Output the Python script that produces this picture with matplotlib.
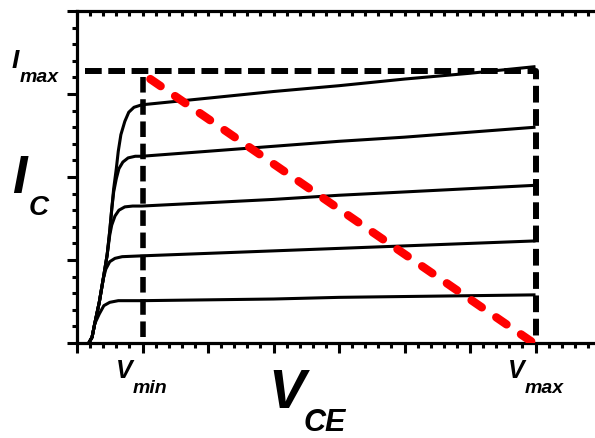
import matplotlib.pyplot as plt
from matplotlib.ticker import MultipleLocator

# Output characteristic curves (V_CE, I_C)
vce_1 = [0.18, 0.23, 0.27, 0.34, 0.40, 0.46, 0.50, 0.53, 0.56, 0.60, 0.63, 0.67, 0.73, 0.79, 0.87, 0.99,
         2.0, 3.0, 4.0, 5.0, 6.0, 7.0]
ic_1 = [0.0, 0.07, 0.23, 0.49, 0.77, 1.06, 1.35, 1.61, 1.86, 2.10, 2.31, 2.51, 2.67, 2.78, 2.84, 2.87,
        2.95, 3.03, 3.10, 3.18, 3.25, 3.33]

vce_2 = [0.18, 0.23, 0.27, 0.34, 0.40, 0.46, 0.50, 0.53, 0.56, 0.60, 0.64, 0.70, 0.78, 0.89, 0.99,
         2.0, 3.0, 4.0, 5.0, 6.0, 7.0]
ic_2 = [0.0, 0.07, 0.23, 0.49, 0.77, 1.06, 1.35, 1.61, 1.82, 1.98, 2.10, 2.18, 2.23, 2.25, 2.25,
        2.31, 2.37, 2.43, 2.48, 2.54, 2.60]

vce_3 = [0.18, 0.23, 0.27, 0.34, 0.40, 0.46, 0.50, 0.53, 0.58, 0.64, 0.73, 0.85, 0.99,
         2.0, 3.0, 4.0, 5.0, 6.0, 7.0]
ic_3 = [0.0, 0.07, 0.23, 0.49, 0.77, 1.06, 1.30, 1.42, 1.53, 1.60, 1.64, 1.65, 1.65,
        1.69, 1.73, 1.78, 1.82, 1.86, 1.90]

vce_4 = [0.18, 0.23, 0.27, 0.34, 0.40, 0.44, 0.50, 0.58, 0.69, 0.99,
         2.0, 3.0, 4.0, 5.0, 6.0, 7.0]
ic_4 = [0.0, 0.07, 0.23, 0.49, 0.77, 0.89, 0.98, 1.02, 1.04, 1.05,
        1.08, 1.11, 1.14, 1.17, 1.20, 1.23]

vce_5 = [0.18, 0.23, 0.27, 0.34, 0.41, 0.50, 0.63, 0.99,
         2.0, 3.0, 4.0, 5.0, 6.0, 7.0]
ic_5 = [0.0, 0.07, 0.23, 0.35, 0.45, 0.49, 0.51, 0.51,
        0.52, 0.53, 0.55, 0.56, 0.57, 0.58]

curves = [(vce_1, ic_1), (vce_2, ic_2), (vce_3, ic_3), (vce_4, ic_4), (vce_5, ic_5)]

# Limits box and load line
i_max = 3.28
v_min = 1.0
v_max = 7.0
i_max_start = 0.12
load_v = [1.12, 6.97]
load_i = [3.18, 0.0]

W, H = 595, 439
fig = plt.figure(figsize=(W / 100, H / 100), dpi=100)
ax = fig.add_axes([77 / W, (H - 344) / H, (W - 77) / W, (344 - 12) / H])
ax.set_xlim(0, (W - 77) / 65.5)
ax.set_ylim(0, 4)

for v, i in curves:
    ax.plot(v, i, color="black", linewidth=2.2, solid_capstyle="butt", zorder=3)

ax.plot([i_max_start, v_max, v_max], [i_max, i_max, 0], color="black", linewidth=4.3,
        linestyle=(0, (2.8, 1.1)), dash_capstyle="butt", zorder=4, clip_on=False)
ax.plot([v_min, v_min], [i_max - 0.07, 0], color="black", linewidth=4.0,
        linestyle=(0, (2.8, 1.2)), dash_capstyle="butt", zorder=4, clip_on=False)

ax.plot(load_v, load_i, color="#ff0000", linewidth=6.0, linestyle=(0, (1.5, 2.1)),
        dash_capstyle="round", zorder=5)

# Axes styling
for side in ("right", "top"):
    ax.spines[side].set_visible(False)
for side in ("left", "bottom"):
    ax.spines[side].set_linewidth(2.3)

ax.xaxis.set_major_locator(MultipleLocator(1))
ax.xaxis.set_minor_locator(MultipleLocator(0.2))
ax.yaxis.set_major_locator(MultipleLocator(1))
ax.yaxis.set_minor_locator(MultipleLocator(0.2))
ax.tick_params(which="both", direction="out", width=2.2, labelbottom=False, labelleft=False)
ax.tick_params(which="major", length=7)
ax.tick_params(which="minor", length=3.6)

top = ax.secondary_xaxis("top")
top.spines["top"].set_linewidth(2.3)
top.xaxis.set_major_locator(MultipleLocator(0.2))
top.tick_params(which="both", direction="in", length=3.6, width=2.2, labeltop=False)

# Labels (bold italic, placed by pixel)
font = dict(family="Liberation Sans", weight="bold", style="italic", va="baseline", ha="left")


def label(x, y, s, size):
    fig.text(x / W, 1 - y / H, s, fontsize=size, **font)


label(12, 68, "I", 19)
label(20, 82, "max", 14)
label(12, 193, "I", 38)
label(29, 215, "C", 20)
label(268, 408, "V", 40)
label(304, 431, "CE", 22)
label(116, 378, "V", 18)
label(133, 393, "min", 14)
label(508, 378, "V", 18)
label(525, 393, "max", 14)

fig.savefig("out.png", dpi=100)
